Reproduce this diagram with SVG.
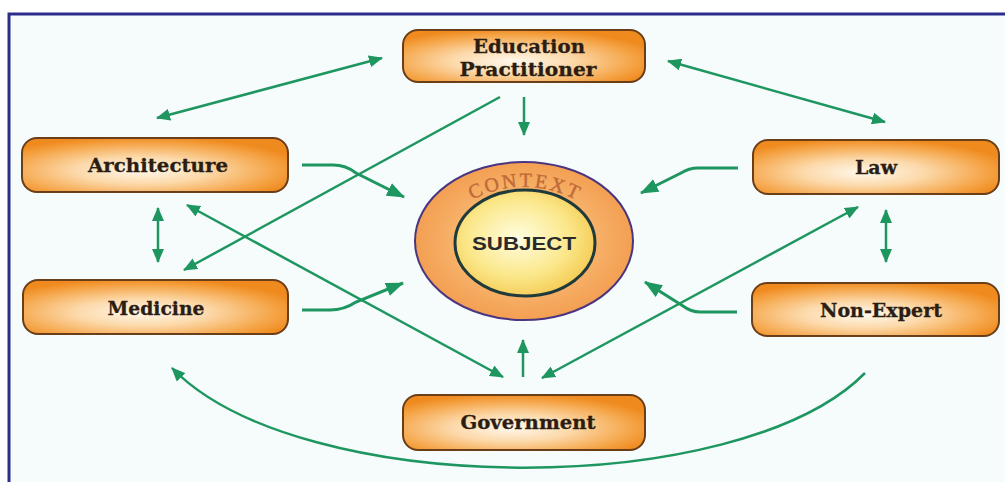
<svg xmlns="http://www.w3.org/2000/svg" width="1005" height="482" viewBox="0 0 1005 482">
  <defs>
    <radialGradient id="boxg" cx="0.45" cy="0.6" r="0.62">
      <stop offset="0" stop-color="#fff8ec"/>
      <stop offset="0.4" stop-color="#fcd9aa"/>
      <stop offset="0.8" stop-color="#f5a548"/>
      <stop offset="1" stop-color="#ef8a1e"/>
    </radialGradient>
    <radialGradient id="subj" cx="0.45" cy="0.45" r="0.6">
      <stop offset="0" stop-color="#fffde0"/>
      <stop offset="0.6" stop-color="#fbe88c"/>
      <stop offset="1" stop-color="#f4c84e"/>
    </radialGradient>
    <radialGradient id="ring" cx="0.5" cy="0.5" r="0.5">
      <stop offset="0.6" stop-color="#f7b46c"/>
      <stop offset="1" stop-color="#f39f52"/>
    </radialGradient>
    <marker id="ah" viewBox="0 0 14 12" refX="13" refY="6" markerWidth="14" markerHeight="12" markerUnits="userSpaceOnUse" orient="auto-start-reverse">
      <path d="M0,0 L14,6 L0,12 z" fill="#1e9660"/>
    </marker>
    <marker id="ahb" viewBox="0 0 18 14" refX="17" refY="7" markerWidth="18" markerHeight="14" markerUnits="userSpaceOnUse" orient="auto">
      <path d="M0,0 L18,7 L0,14 z" fill="#1e9660"/>
    </marker>
    <path id="ctxArc" d="M424,251 A110,110 0 0,1 624,251"/>
  </defs>
  <style>
    .box { fill: url(#boxg); stroke: #6b3e1a; stroke-width: 2; }
    .lbl { font-family: "DejaVu Serif", "Liberation Serif", serif; font-weight: bold; font-size: 19px; fill: #2b1d12; stroke: #2b1d12; stroke-width: 0.3; text-anchor: middle; }
    .ln { fill: none; stroke: #1e9660; stroke-width: 2.5; }
    .ln2 { marker-end: url(#ah); }
    .ln3 { marker-start: url(#ah); marker-end: url(#ah); }
    .lnb { fill: none; stroke: #1e9660; stroke-width: 3; marker-end: url(#ahb); }
  </style>

  <rect x="0" y="0" width="1005" height="482" fill="#ffffff"/>
  <rect x="9" y="14" width="996" height="468" fill="#f6fbfb"/>
  <path d="M9,482 L9,14 L1005,14" fill="none" stroke="#2a2e8a" stroke-width="3"/>

  <g id="connectors">
    <path class="ln ln3" d="M382,58 L157,118"/>
    <path class="ln ln3" d="M668,61 L885,122"/>
    <path class="ln ln2" d="M524,97 L524,135"/>
    <path class="ln ln2" d="M500,97 L184,270"/>
    <path class="lnb" d="M302,165 L333,165 Q346,165 356,173 L404,197"/>
    <path class="ln ln3" d="M158,208 L158,262"/>
    <path class="ln ln3" d="M187,205 L503,377"/>
    <path class="lnb" d="M302,310 L330,310 Q344,310 356,302 L403,283"/>
    <path class="lnb" d="M738,168 L698,168 Q689,168 681,173 L641,193"/>
    <path class="ln ln3" d="M886,210 L886,262"/>
    <path class="ln ln3" d="M858,207 L542,378"/>
    <path class="lnb" d="M737,312 L700,312 Q691,312 683,306 L645,282"/>
    <path class="ln ln2" d="M523,377 L523,340"/>
    <path class="ln ln2" d="M865,373 C740,500 300,500 172,368"/>
  </g>

  <g id="subject">
    <ellipse cx="524" cy="241" rx="109" ry="79" fill="url(#ring)" stroke="#4a3580" stroke-width="2"/>
    <text font-family="Liberation Serif, serif" font-size="20" fill="#c06a38" stroke="#c06a38" stroke-width="0.4" textLength="108" lengthAdjust="spacing"><textPath href="#ctxArc" startOffset="50%" text-anchor="middle">CONTEXT</textPath></text>
    <ellipse cx="525" cy="243" rx="70" ry="53" fill="url(#subj)" stroke="#1f3a3a" stroke-width="3"/>
    <text x="524" y="250" font-family="Liberation Sans, Arial, sans-serif" font-weight="bold" font-size="18" fill="#2b2b2b" text-anchor="middle" textLength="104" lengthAdjust="spacingAndGlyphs">SUBJECT</text>
  </g>

  <g id="education">
    <rect class="box" x="403" y="30" width="242" height="52" rx="15"/>
    <text class="lbl" x="529" y="53" textLength="112" lengthAdjust="spacingAndGlyphs">Education</text>
    <text class="lbl" x="528" y="76" textLength="137" lengthAdjust="spacingAndGlyphs">Practitioner</text>
  </g>
  <g id="architecture">
    <rect class="box" x="22" y="138" width="266" height="54" rx="15"/>
    <text class="lbl" x="158" y="172" textLength="140" lengthAdjust="spacingAndGlyphs">Architecture</text>
  </g>
  <g id="medicine">
    <rect class="box" x="23" y="280" width="265" height="54" rx="15"/>
    <text class="lbl" x="156" y="315" textLength="97" lengthAdjust="spacingAndGlyphs">Medicine</text>
  </g>
  <g id="law">
    <rect class="box" x="753" y="140" width="246" height="54" rx="15"/>
    <text class="lbl" x="876" y="174" textLength="42" lengthAdjust="spacingAndGlyphs">Law</text>
  </g>
  <g id="nonexpert">
    <rect class="box" x="752" y="283" width="247" height="53" rx="15"/>
    <text class="lbl" x="881" y="317" textLength="122" lengthAdjust="spacingAndGlyphs">Non-Expert</text>
  </g>
  <g id="government">
    <rect class="box" x="403" y="395" width="242" height="55" rx="15"/>
    <text class="lbl" x="528" y="429" textLength="135" lengthAdjust="spacingAndGlyphs">Government</text>
  </g>
</svg>
